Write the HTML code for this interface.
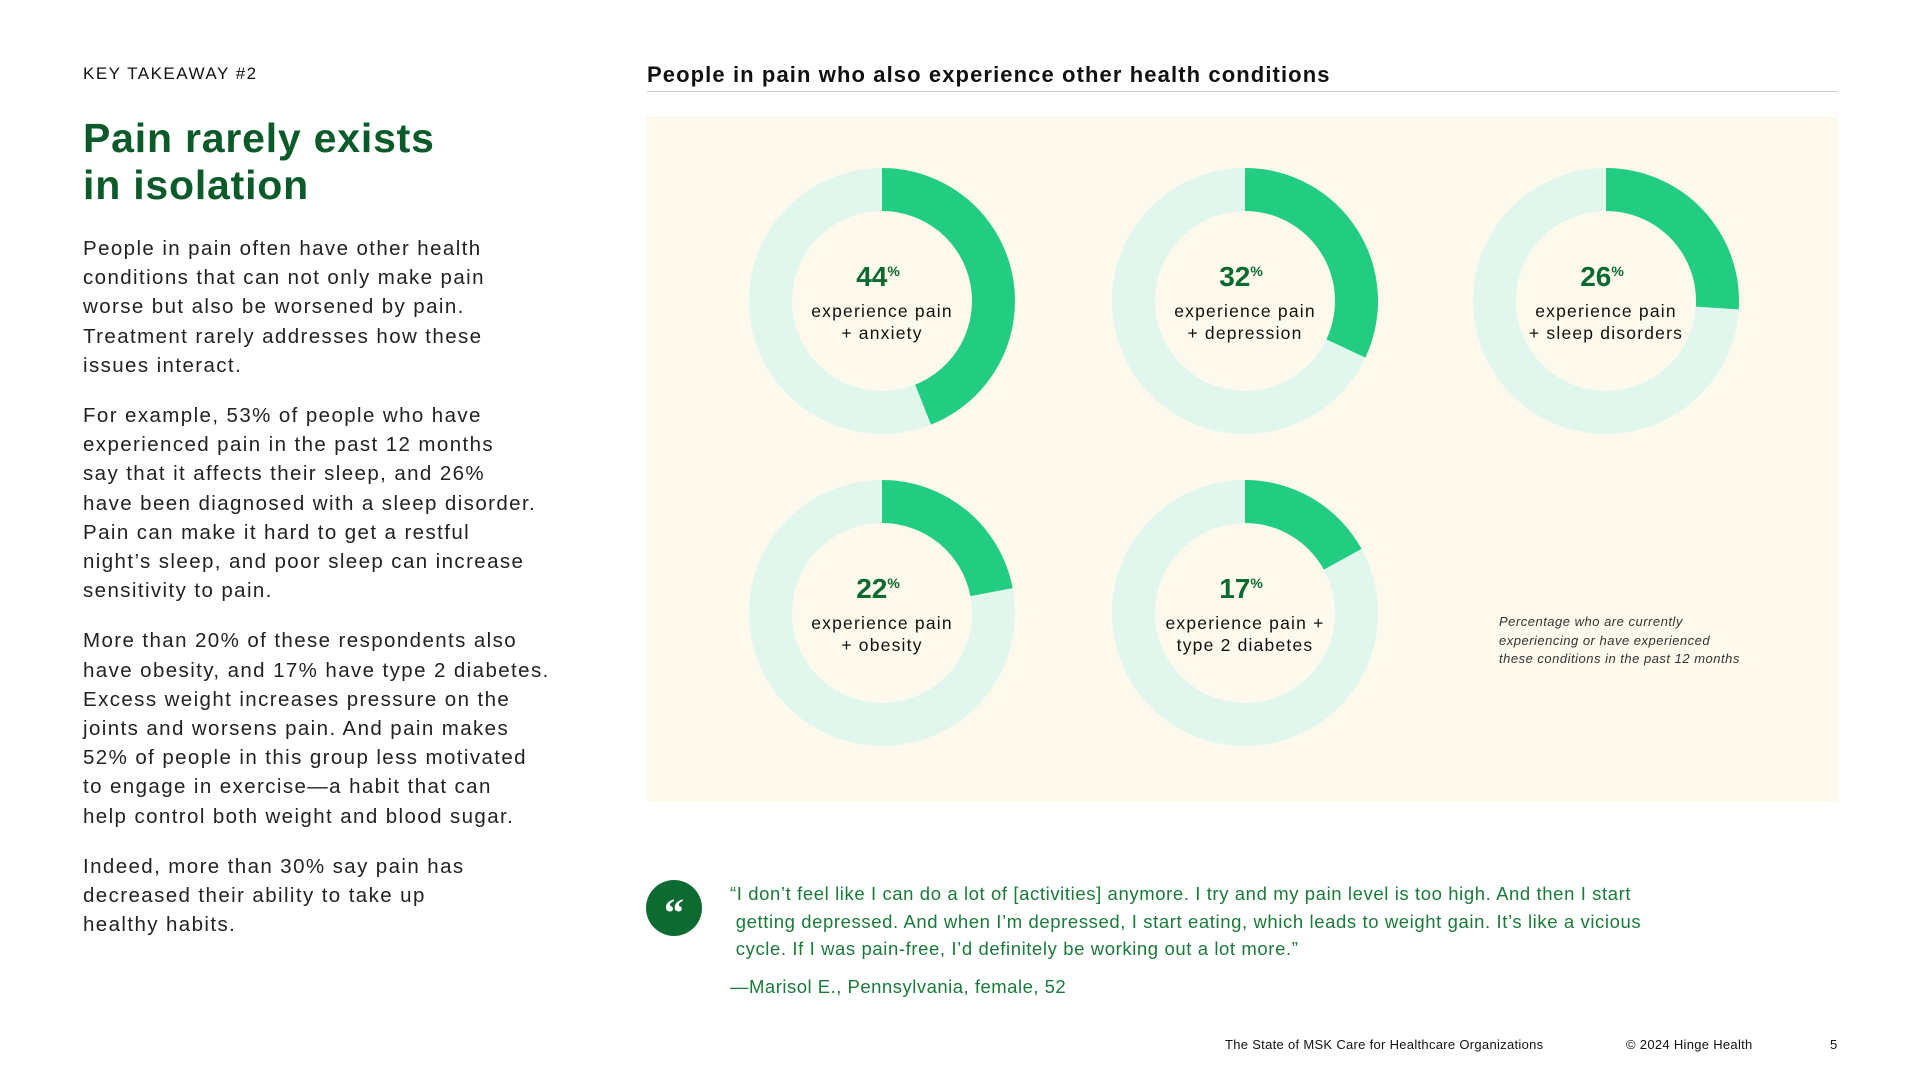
<!DOCTYPE html>
<html><head><meta charset="utf-8"><style>
body{margin:0;width:1920px;height:1085px;background:#fff;position:relative;overflow:hidden;font-family:"Liberation Sans",sans-serif;}
.a{position:absolute;white-space:nowrap;}
.body p{margin:0 0 21px 0;}
</style></head><body>
<div class="a" style="left:83px;top:64px;font-size:17px;letter-spacing:1.5px;color:#111;">KEY TAKEAWAY #2</div>
<div class="a" style="left:83px;top:115px;font-size:41px;line-height:47px;font-weight:bold;color:#0b5a2a;letter-spacing:0.8px;">Pain rarely exists<br>in isolation</div>
<div class="a body" style="left:83px;top:234px;font-size:20.5px;line-height:29.2px;color:#222;letter-spacing:1.4px;">
<p>People in pain often have other health<br>conditions that can not only make pain<br>worse but also be worsened by pain.<br>Treatment rarely addresses how these<br>issues interact.</p>
<p>For example, 53% of people who have<br>experienced pain in the past 12 months<br>say that it affects their sleep, and 26%<br>have been diagnosed with a sleep disorder.<br>Pain can make it hard to get a restful<br>night’s sleep, and poor sleep can increase<br>sensitivity to pain.</p>
<p>More than 20% of these respondents also<br>have obesity, and 17% have type 2 diabetes.<br>Excess weight increases pressure on the<br>joints and worsens pain. And pain makes<br>52% of people in this group less motivated<br>to engage in exercise—a habit that can<br>help control both weight and blood sugar.</p>
<p>Indeed, more than 30% say pain has<br>decreased their ability to take up<br>healthy habits.</p>
</div>
<div class="a" style="left:647px;top:62px;font-size:22px;font-weight:bold;color:#111;letter-spacing:1.1px;">People in pain who also experience other health conditions</div>
<div class="a" style="left:647px;top:91px;width:1191px;height:1px;background:#ccc;"></div>
<div class="a" style="left:646px;top:116px;width:1192px;height:686px;background:#fdf9ec;"></div>
<svg class="a" style="left:0;top:0" width="1920" height="1085" id="chart"></svg>
<div class="a" style="left:1499px;top:613px;font-size:13px;line-height:18.5px;font-style:italic;color:#333;letter-spacing:0.5px;">Percentage who are currently<br>experiencing or have experienced<br>these conditions in the past 12 months</div>
<div class="a" style="left:646px;top:880px;width:56px;height:56px;border-radius:50%;background:#0d6b32;color:#fff;font-size:40px;font-weight:bold;text-align:center;line-height:66px;font-family:'Liberation Serif',serif;">“</div>
<div class="a" style="left:730px;top:880px;font-size:18.5px;line-height:27.5px;color:#1a7a3a;letter-spacing:0.6px;">“I don’t feel like I can do a lot of [activities] anymore. I try and my pain level is too high. And then I start<br>&nbsp;getting depressed. And when I’m depressed, I start eating, which leads to weight gain. It’s like a vicious<br>&nbsp;cycle. If I was pain-free, I’d definitely be working out a lot more.”</div>
<div class="a" style="left:730px;top:976px;font-size:18.5px;color:#1a7a3a;letter-spacing:0.5px;">—Marisol E., Pennsylvania, female, 52</div>
<div class="a" style="left:1225px;top:1037px;font-size:13px;color:#111;letter-spacing:0.3px;">The State of MSK Care for Healthcare Organizations</div>
<div class="a" style="left:1626px;top:1037px;font-size:13px;color:#111;letter-spacing:0.3px;">© 2024 Hinge Health</div>
<div class="a" style="left:1830px;top:1037px;font-size:13px;color:#111;">5</div>
<script>
const values=[44,32,26,22,17];
const labels1=["experience pain","experience pain","experience pain","experience pain","experience pain +"];
const labels2=["+ anxiety","+ depression","+ sleep disorders","+ obesity","type 2 diabetes"];
const names=["anxiety","depression","sleep-disorders","obesity","type-2-diabetes"];
const cols=[882,1245,1606];const rows=[301,613];
const R=133,r=90,NS="http://www.w3.org/2000/svg";
const svg=document.getElementById('chart');
function mk(t,a){const e=document.createElementNS(NS,t);for(const k in a)e.setAttribute(k,a[k]);svg.appendChild(e);return e;}
function arc(cx,cy,v){
 const a=v/100*2*Math.PI;const big=v>50?1:0;
 const x1=cx+R*Math.sin(a),y1=cy-R*Math.cos(a),x2=cx+r*Math.sin(a),y2=cy-r*Math.cos(a);
 return `M${cx},${cy-R}A${R},${R} 0 ${big} 1 ${x1},${y1}L${x2},${y2}A${r},${r} 0 ${big} 0 ${cx},${cy-r}Z`;}
values.forEach((v,i)=>{
 const cx=cols[i%3],cy=rows[Math.floor(i/3)];
 const bg=mk('circle',{cx:cx,cy:cy,r:(R+r)/2,fill:'none',stroke:'#e1f7ee','stroke-width':R-r});
 
 
 const p=mk('path',{d:arc(cx,cy,v),fill:'#22cc80'});
 
 
 const t=mk('text',{x:cx-4,y:cy-15,'text-anchor':'middle','font-size':28,'font-weight':'bold',fill:'#0b6a30','font-family':'Liberation Sans'});
 t.textContent=v;const s=mk('tspan',{'font-size':14,dy:-10});s.textContent='%';t.appendChild(s);
 
 
 const l1=mk('text',{x:cx,y:cy+16,'text-anchor':'middle','font-size':17.5,'letter-spacing':1.2,fill:'#111','font-family':'Liberation Sans'});l1.textContent=labels1[i];
 
 
 const l2=mk('text',{x:cx,y:cy+38,'text-anchor':'middle','font-size':17.5,'letter-spacing':1.2,fill:'#111','font-family':'Liberation Sans'});l2.textContent=labels2[i];
 
 
});
</script>
</body></html>
